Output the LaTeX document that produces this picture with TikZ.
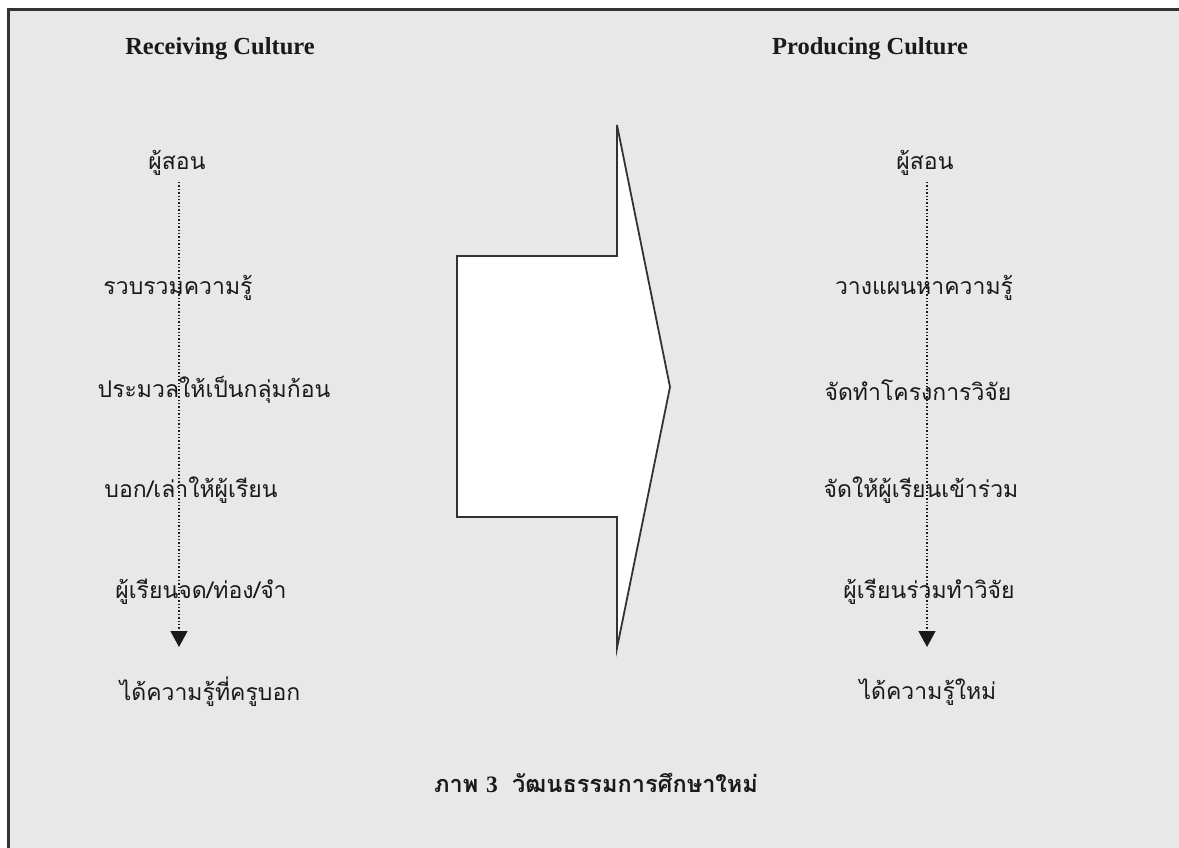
\documentclass[tikz,border=0pt]{standalone}
\usepackage{fontspec}
\setmainfont{Liberation Serif}
\newfontfamily\thaifont[Script=Thai]{Loma}
\usetikzlibrary{arrows.meta}
\definecolor{bg}{HTML}{E8E8E8}
\definecolor{ink}{HTML}{1A1A1A}
\definecolor{frame}{HTML}{333333}
\tikzset{
  head/.style={font=\bfseries\fontsize{24.5}{29}\selectfont, text=ink, inner sep=0pt},
  thai/.style={font=\thaifont\fontsize{23}{28}\selectfont, text=ink, inner sep=0pt},
  flow/.style={draw=ink, line width=1.4pt, dotted, -{Triangle[width=17pt,length=16pt]}},
  bigarrow/.style={draw=frame, fill=white, line width=1.8pt, line join=miter},
}
\begin{document}
\begin{tikzpicture}[x=1pt,y=-1pt]
\useasboundingbox (0,0) rectangle (1179,848);
\fill[white] (0,0) rectangle (1179,848);
\fill[bg] (8,10) rectangle (1179,848);
\draw[frame, line width=3pt] (8,848) -- (8,10) -- (1179,10);

\node[head] (lh) at (220,49) {Receiving Culture};
\node[head] (rh) at (870,49) {Producing Culture};

% left column
\node[thai] (l0) at (177,163) {ผู้สอน};
\node[thai] (l1) at (178,288) {รวบรวมความรู้};
\node[thai] (l2) at (214,390) {ประมวลให้เป็นกลุ่มก้อน};
\node[thai] (l3) at (191,490) {บอก/เล่าให้ผู้เรียน};
\node[thai] (l4) at (201,592) {ผู้เรียนจด/ท่อง/จำ};
\node[thai] (l5) at (210,692) {ได้ความรู้ที่ครูบอก};
\coordinate (ls) at (179,182);
\coordinate (le) at (179,647);
\draw[flow] (ls) -- (le);

% right column
\node[thai] (r0) at (925,163) {ผู้สอน};
\node[thai] (r1) at (924,288) {วางแผนหาความรู้};
\node[thai] (r2) at (918,390) {จัดทำโครงการวิจัย};
\node[thai] (r3) at (921,490) {จัดให้ผู้เรียนเข้าร่วม};
\node[thai] (r4) at (929,592) {ผู้เรียนร่วมทำวิจัย};
\node[thai] (r5) at (928,692) {ได้ความรู้ใหม่};
\coordinate (rs) at (927,182);
\coordinate (re) at (927,647);
\draw[flow] (rs) -- (re);

% big arrow
\draw[bigarrow] (457,256) -- (617,256) -- (617,125) -- (670,387) -- (617,648) -- (617,517) -- (457,517) -- cycle;

\node[thai, font=\thaifont\bfseries\fontsize{23.5}{28}\selectfont] (cap) at (596,783) {ภาพ {\rmfamily\bfseries 3}\hspace{0.6em}วัฒนธรรมการศึกษาใหม่};
\end{tikzpicture}
\end{document}
